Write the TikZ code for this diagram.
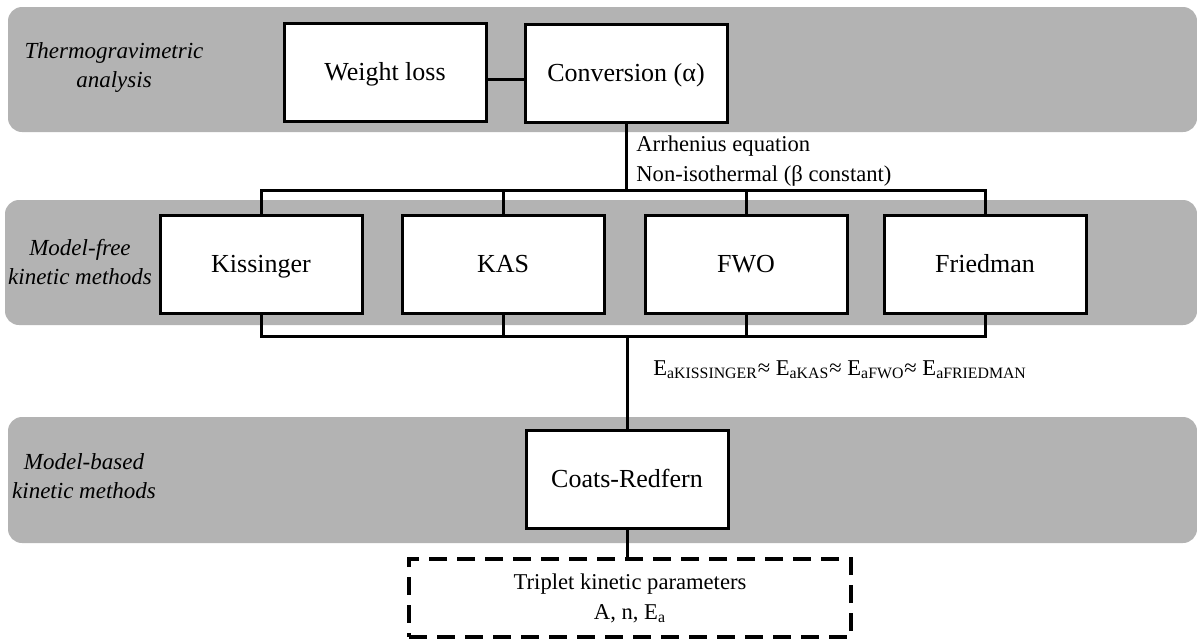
\documentclass[tikz,border=0pt]{standalone}
\usepackage{fontspec}
\setmainfont{Liberation Serif}
\definecolor{bandgray}{RGB}{179,179,179}
\begin{document}
\begin{tikzpicture}[x=0.5pt, y=-0.5pt, font=\fontsize{13}{15}\selectfont,
  band/.style={fill=bandgray, rounded corners=7pt},
  box/.style={draw, line width=1.5pt, fill=white, minimum width=101pt, minimum height=49pt, inner sep=0pt,
    text height=10.5pt, text depth=2pt},
  lbl/.style={font=\fontsize{11.5}{14.5}\selectfont\itshape, align=center},
  note/.style={font=\fontsize{11.3}{15}\selectfont, inner sep=0pt},
  link/.style={line width=1.5pt}]

\useasboundingbox (0,0) rectangle (1197,639);
\fill[band] (8,7) rectangle (1197,132);
\fill[band] (5,200) rectangle (1197,325);
\fill[band] (8,417) rectangle (1197,543);

\node[lbl] (tga) at (114,67) {Thermogravimetric\\analysis};
\node[lbl] (mfree) at (80,262) {Model-free\\kinetic methods};
\node[lbl] (mbased) at (84,476) {Model-based\\kinetic methods};

\node[box] (wl) at (385,72) {Weight loss};
\node[box] (conv) at (626,73) {Conversion (α)};
\foreach \nm/\xm/\txt in {kis/261/Kissinger, kas/503/KAS, fwo/746/FWO, fried/985/Friedman}
\node[box] (\nm) at (\xm,264) {\txt};
\node[box] (coats) at (627,479) {Coats-Redfern};
\node[box, line width=2pt, dash pattern=on 9pt off 5pt, minimum width=221pt, minimum height=39pt,
  text height=, text depth=, font=\fontsize{11.3}{15}\selectfont, align=center] (trip) at (630,598)
  {Triplet kinetic parameters\\A, n, E\textsubscript{a}};

\coordinate (top) at (627,190);
\coordinate (bot) at (627,336);
\draw[link] ([yshift=-3.5pt]wl.east) -- ([yshift=-3.5pt]wl.east -| conv.west);
\draw[link] (conv.south) -- (conv.south |- top);
\draw[link] (kis.north) |- (top) -| (fried.north);
\draw[link] (kis.south) |- (bot) -| (fried.south);
\foreach \nm in {kas,fwo}{
\draw[link] (\nm.north) -- (\nm.north |- top);
\draw[link] (\nm.south) -- (\nm.south |- bot);
}
\draw[link] (bot) -- (coats.north);
\draw[link] (coats.south) -- (coats.south |- trip.north);

\node[note, anchor=west, align=left] (arr) at (636,161) {Arrhenius equation\\Non-isothermal (β constant)};
\node[note, anchor=west] (ea) at (653,370) {E\textsubscript{aKISSINGER}≈ E\textsubscript{aKAS}≈ E\textsubscript{aFWO}≈ E\textsubscript{aFRIEDMAN}};
\end{tikzpicture}
\end{document}
